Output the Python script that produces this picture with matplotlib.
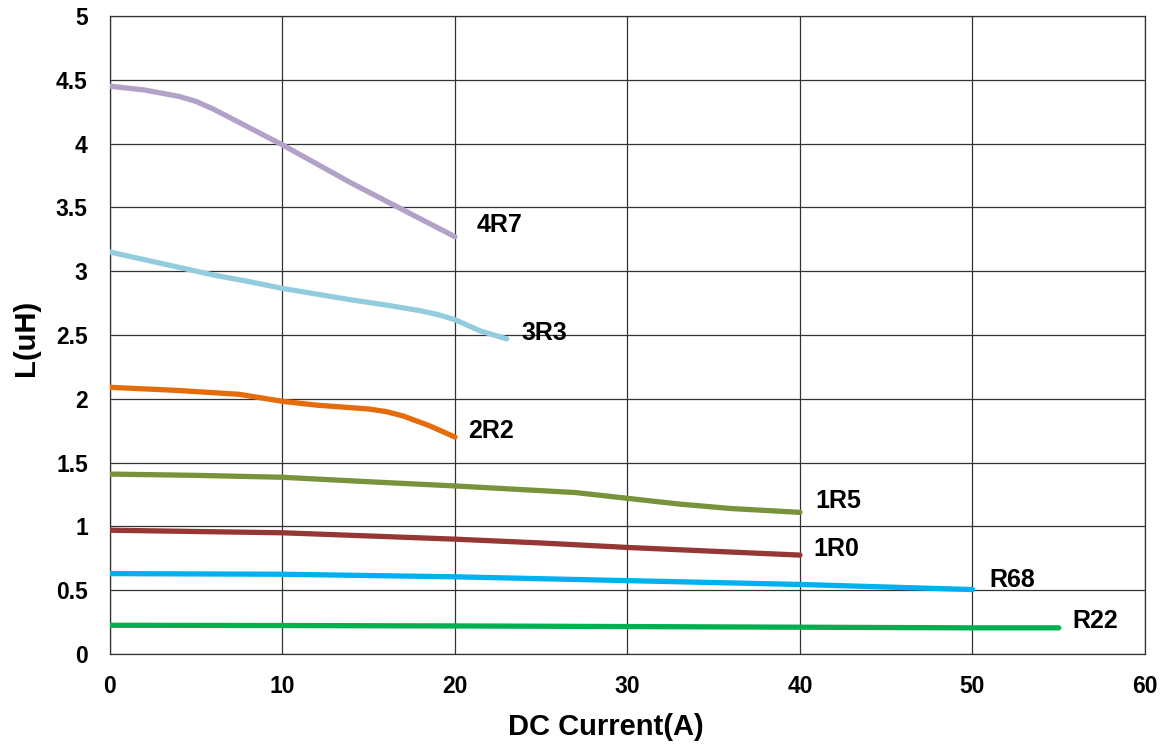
import matplotlib
matplotlib.use("Agg")
import matplotlib.pyplot as plt

plt.rcParams['font.family'] = ['Liberation Sans', 'DejaVu Sans']

# Data
x_4r7 = [0, 2, 4, 5, 6, 7, 8, 10, 12, 14, 16, 18, 20]
y_4r7 = [4.45, 4.42, 4.37, 4.33, 4.27, 4.20, 4.13, 3.99, 3.84, 3.69, 3.55, 3.41, 3.27]

x_3r3 = [0, 2, 4, 6, 8, 10, 12, 14, 16, 18, 19, 20, 21.5, 23]
y_3r3 = [3.15, 3.09, 3.03, 2.97, 2.92, 2.865, 2.82, 2.775, 2.735, 2.69, 2.66, 2.62, 2.53, 2.47]

x_2r2 = [0, 4, 7.5, 10, 12, 15, 16, 17, 18.5, 20]
y_2r2 = [2.09, 2.065, 2.035, 1.98, 1.95, 1.92, 1.90, 1.865, 1.79, 1.70]

x_1r5 = [0, 5, 10, 15, 20, 25, 27, 30, 33, 36, 40]
y_1r5 = [1.41, 1.40, 1.385, 1.35, 1.317, 1.28, 1.265, 1.22, 1.175, 1.14, 1.11]

x_1r0 = [0, 10, 20, 25, 30, 40]
y_1r0 = [0.97, 0.95, 0.90, 0.87, 0.835, 0.775]

x_r68 = [0, 10, 20, 30, 40, 50]
y_r68 = [0.63, 0.625, 0.605, 0.575, 0.545, 0.505]

x_r22 = [0, 10, 20, 30, 40, 50, 55]
y_r22 = [0.225, 0.223, 0.22, 0.215, 0.21, 0.205, 0.205]

series = [
    ("4R7", x_4r7, y_4r7, "#B3A2C7", (22.6, 3.36)),
    ("3R3", x_3r3, y_3r3, "#93CDDD", (25.2, 2.515)),
    ("2R2", x_2r2, y_2r2, "#E46C0A", (22.1, 1.75)),
    ("1R5", x_1r5, y_1r5, "#77933C", (42.2, 1.20)),
    ("1R0", x_1r0, y_1r0, "#953735", (42.1, 0.82)),
    ("R68", x_r68, y_r68, "#00B0F0", (52.3, 0.58)),
    ("R22", x_r22, y_r22, "#00B050", (57.1, 0.26)),
]

x_ticks = [0, 10, 20, 30, 40, 50, 60]
y_ticks = [0, 0.5, 1, 1.5, 2, 2.5, 3, 3.5, 4, 4.5, 5]
y_tick_labels = ["0", "0.5", "1", "1.5", "2", "2.5", "3", "3.5", "4", "4.5", "5"]

fig = plt.figure(figsize=(11.65, 7.47), dpi=100)
ax = fig.add_axes([0.0944, 0.1245, 0.8884, 0.8541])

for name, xs, ys, col, (lx, ly) in series:
    ax.plot(xs, ys, color=col, lw=3.8, solid_capstyle='round', solid_joinstyle='round', zorder=3)
    ax.text(lx, ly, name, fontsize=18, fontweight='bold', ha='center', va='center', zorder=4)

ax.set_xlim(0, 60)
ax.set_ylim(0, 5)
ax.set_xticks(x_ticks)
ax.set_yticks(y_ticks)
ax.set_yticklabels(y_tick_labels)
ax.grid(True, color='#333333', lw=0.9, zorder=0)
ax.set_axisbelow(True)
for s in ax.spines.values():
    s.set_color('#333333')
    s.set_linewidth(0.9)
ax.tick_params(axis='both', labelsize=16.5, length=0)
for lab in ax.get_xticklabels() + ax.get_yticklabels():
    lab.set_fontweight('bold')
ax.tick_params(axis='x', pad=15)
ax.tick_params(axis='y', pad=16)

fig.text(606 / 1165, 1 - 727 / 747, "DC Current(A)", fontsize=21, fontweight='bold',
         ha='center', va='center')
fig.text(26 / 1165, 1 - 338 / 747, "L(uH)", fontsize=21, fontweight='bold',
         ha='center', va='center', rotation=90)

fig.savefig("out.png", dpi=100)
